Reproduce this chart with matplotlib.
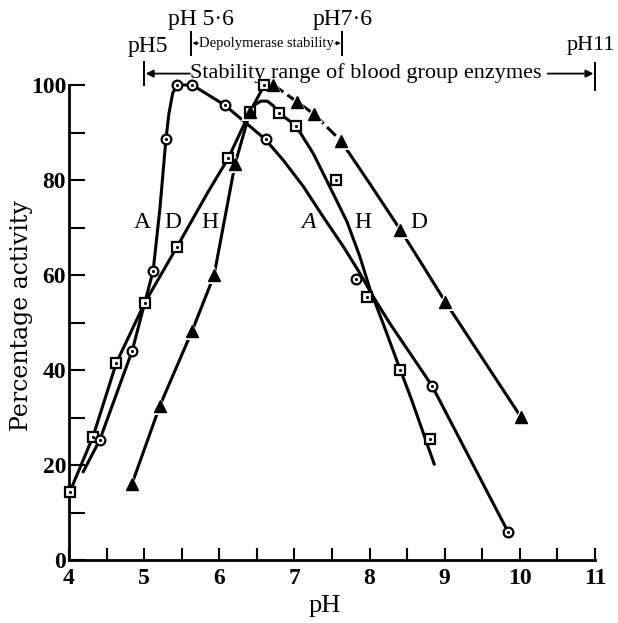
import matplotlib
matplotlib.use('Agg')
import matplotlib.pyplot as plt

plt.rcParams['font.family'] = ['Liberation Serif', 'DejaVu Serif']

# ── data ────────────────────────────────────────────────────────────────────
# A  (circles)
a_ph = [4.41, 4.84, 5.12, 5.29, 5.44, 5.64, 6.07, 6.62, 7.82, 8.83, 9.84]
a_act = [25.3, 44.0, 60.9, 88.6, 100.0, 100.0, 95.8, 88.6, 59.1, 36.7, 6.0]
a_line_ph = [4.19, 4.41, 4.84, 5.12, 5.21, 5.29, 5.33, 5.38, 5.44, 5.64, 6.07,
             6.61, 6.85, 7.12, 7.38, 7.65, 7.87, 8.05, 8.27, 8.54, 8.83, 9.84]
a_line_act = [18.6, 25.3, 44.0, 60.9, 74.0, 88.6, 94.0, 98.3, 100.0, 100.0, 95.8,
              88.6, 84.2, 78.6, 72.3, 66.0, 60.4, 55.4, 49.8, 43.5, 36.7, 6.0]

# squares (D rising side, H falling side)
sq_ph = [4.01, 4.32, 4.63, 5.01, 5.44, 6.12, 6.41, 6.60, 6.79, 7.02, 7.55, 7.96, 8.41, 8.81]
sq_act = [14.3, 26.0, 41.5, 54.2, 66.0, 84.6, 94.4, 100.0, 94.2, 91.4, 80.0, 55.4, 40.1, 25.4]

# triangles (H rising side, D falling side)
tri_ph = [4.84, 5.21, 5.64, 5.93, 6.21, 6.41, 6.72, 7.03, 7.26, 7.62, 8.41, 9.01, 10.01]
tri_act = [16.1, 32.5, 48.3, 59.9, 83.4, 94.4, 100.0, 96.5, 93.9, 88.2, 69.5, 54.3, 30.2]

# D curve
d_line_ph = [4.01, 4.32, 4.63, 5.01, 5.44, 5.84, 6.12, 6.41, 6.60, 6.72]
d_line_act = [14.3, 26.0, 41.5, 54.2, 66.0, 77.2, 84.6, 94.4, 100.0, 100.0]
d_dash_ph = [6.72, 7.03, 7.26, 7.62]
d_dash_act = [100.0, 96.5, 93.9, 88.2]
d_tail_ph = [7.62, 8.00, 8.41, 8.72, 9.01, 10.01]
d_tail_act = [88.2, 79.3, 69.5, 61.7, 54.3, 30.2]

# H curve
h_line_ph = [4.84, 5.21, 5.64, 5.93, 6.21, 6.41, 6.47, 6.55, 6.64, 6.72, 6.79,
             7.02, 7.25, 7.47, 7.70, 7.87, 8.01, 8.18, 8.36, 8.56, 8.86]
h_line_act = [16.1, 32.5, 48.3, 59.9, 83.4, 94.4, 95.8, 96.6, 96.6, 95.6, 94.2,
              91.4, 85.6, 78.6, 71.2, 63.9, 56.8, 49.8, 42.1, 33.7, 20.2]

x_major = [4, 5, 6, 7, 8, 9, 10, 11]
x_minor = [4.5, 5.5, 6.5, 7.5, 8.5, 9.5, 10.5]
y_major = [0, 20, 40, 60, 80, 100]
y_minor = [10, 30, 50, 70, 90]

# ── figure ──────────────────────────────────────────────────────────────────
fig = plt.figure(figsize=(6.18, 6.23), dpi=100)
ax = fig.add_axes([69 / 618, 1 - 560 / 623, 526 / 618, 475 / 623])
ax.set_xlim(4, 11)
ax.set_ylim(0, 100)

lw = 2.2
ax.plot(a_line_ph, a_line_act, color='black', lw=lw, clip_on=False)
ax.plot(d_line_ph, d_line_act, color='black', lw=lw, clip_on=False)
ax.plot(d_dash_ph, d_dash_act, color='black', lw=lw, clip_on=False,
        linestyle=(0, (4, 1.6)))
ax.plot(d_tail_ph, d_tail_act, color='black', lw=lw, clip_on=False)
ax.plot(h_line_ph, h_line_act, color='black', lw=lw, clip_on=False)

# white halo so the lines break around the triangles
ax.plot(tri_ph, tri_act, '^', ms=13, color='white', mew=0, clip_on=False, zorder=3)
ax.plot(sq_ph, sq_act, 's', ms=7.5, mfc='white', mec='black', mew=1.6,
        clip_on=False, zorder=4)
ax.plot(sq_ph, sq_act, '.', ms=2.5, color='black', clip_on=False, zorder=5)
ax.plot(a_ph, a_act, 'o', ms=7, mfc='white', mec='black', mew=1.6,
        clip_on=False, zorder=4)
ax.plot(a_ph, a_act, '.', ms=2.5, color='black', clip_on=False, zorder=5)
ax.plot(tri_ph, tri_act, '^', ms=9, color='black', clip_on=False, zorder=6)

# curve letters
for x, lab, st in [(4.97, 'A', 'normal'), (5.38, 'D', 'normal'), (5.88, 'H', 'normal'),
                   (7.19, 'A', 'italic'), (7.91, 'H', 'normal'), (8.65, 'D', 'normal')]:
    ax.text(x, 71, lab, fontsize=17, ha='center', va='center', style=st)

# axes styling
for s in ['top', 'right']:
    ax.spines[s].set_visible(False)
for s in ['left', 'bottom']:
    ax.spines[s].set_linewidth(2.0)
ax.set_xticks(x_major)
ax.set_xticks(x_minor, minor=True)
ax.set_yticks(y_major)
ax.set_yticks(y_minor, minor=True)
ax.tick_params(axis='x', which='both', direction='in', length=8.5, width=1.5,
               labelsize=17, pad=6)
ax.tick_params(axis='y', which='both', direction='in', length=11.5, width=1.5,
               labelsize=17, pad=2)
for t in ax.get_xticklabels() + ax.get_yticklabels():
    t.set_fontweight('bold')

ax.text(3.37, 51.5, 'Percentage activity', rotation=90, ha='center', va='center',
        fontsize=17, family='DejaVu Serif')
ax.text(7.4, -11, 'pH', ha='center', va='baseline', fontsize=19)

# ── stability ranges above the plot ─────────────────────────────────────────
bar = dict(color='black', lw=1.4, clip_on=False)
ax.plot([5.0, 5.0], [100, 104.8], **bar)
ax.plot([11.0, 11.0], [99, 104.7], **bar)
ax.plot([5.63, 5.63], [106.3, 111.2], **bar)
ax.plot([7.63, 7.63], [106.3, 111.2], **bar)

arrow = dict(arrowstyle='-|>', color='black', lw=1.3, mutation_scale=11,
             shrinkA=0, shrinkB=0)
ax.annotate('', xy=(5.02, 102.4), xytext=(5.61, 102.4), arrowprops=arrow,
            annotation_clip=False)
ax.annotate('', xy=(10.98, 102.4), xytext=(10.37, 102.4), arrowprops=arrow,
            annotation_clip=False)
small = dict(arrowstyle='-|>', color='black', lw=0.9, mutation_scale=5,
             shrinkA=0, shrinkB=0)
ax.annotate('', xy=(5.645, 108.8), xytext=(5.72, 108.8), arrowprops=small,
            annotation_clip=False)
ax.annotate('', xy=(7.615, 108.8), xytext=(7.54, 108.8), arrowprops=small,
            annotation_clip=False)

ax.text(5.61, 102.6, 'Stability range of blood group enzymes', ha='left',
        va='center', fontsize=16)
ax.text(6.63, 108.8, 'Depolymerase stability', ha='center', va='center',
        fontsize=10.5)
ax.text(5.05, 108.2, 'pH5', ha='center', va='center', fontsize=17)
ax.text(11.27, 108.4, 'pH11', ha='right', va='center', fontsize=16)
ax.text(5.76, 113.8, 'pH 5\u00b76', ha='center', va='center', fontsize=17)
ax.text(7.64, 113.8, 'pH7\u00b76', ha='center', va='center', fontsize=17)

fig.savefig('out.png', dpi=100)
